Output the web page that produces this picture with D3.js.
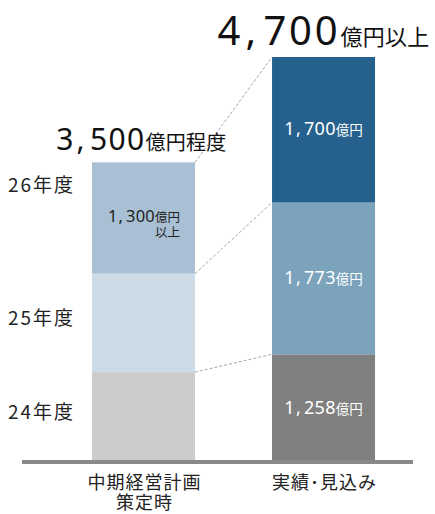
<!DOCTYPE html>
<html>
<head>
<meta charset="utf-8">
<script src="https://cdn.jsdelivr.net/npm/d3@7"></script>
<style>
  body { margin: 0; background: #fff; }
  svg { display: block; font-family: "Noto Sans CJK JP", "Noto Sans", sans-serif; }
  .num { font-family: "Noto Sans", "Noto Sans CJK JP", sans-serif; }
</style>
</head>
<body>
<div id="chart"></div>
<script>
// data
const categories = ['中期経営計画\n策定時', '実績・見込み'];
const years = ['24年度', '25年度', '26年度'];
const planValues = [1050, 1150, 1300];
const actualValues = [1258, 1773, 1700];
const totals = ['3,500', '4,700'];
const totalSuffix = ['億円程度', '億円以上'];
const planColors = ['#cccccc', '#cddbe6', '#a8bfd4'];
const actualColors = ['#808080', '#7ba3bb', '#26618e'];

const width = 435, height = 514;
const baseY = 462;

let svg = d3.select('#chart')
  .append('svg')
  .attr('width', width)
  .attr('height', height);

// table for d3.stack, one row per bar
let table = [planValues, actualValues].map((vals, i) => {
  let row = { cat: categories[i] };
  years.forEach((y, j) => row[y] = vals[j]);
  return row;
});
let stacked = d3.stack().keys(years)(table);

let yMax = d3.max(table, d => d3.sum(years, y => d[y]));

let yScale = d3.scaleLinear()
  .domain([0, yMax])
  .range([baseY, 57]);

let xScale = d3.scaleBand()
  .domain(categories)
  .range([52, 415])
  .paddingInner(0.428)
  .paddingOuter(0.222);

const barColors = [planColors, actualColors];
const fmt = d3.format(',');

// writes a number with a roomier comma, like the original font
function numberSpans(text, str, size, spacing) {
  let parts = str.split(',');
  parts.forEach((p, k) => {
    if (k > 0) {
      text.append('tspan').attr('class', 'num').attr('font-size', size)
        .attr('dx', size * 0.06).attr('letter-spacing', size * 0.18).text(',');
    }
    text.append('tspan').attr('class', 'num').attr('font-size', size).attr('letter-spacing', spacing).text(p);
  });
}

// bars
stacked.forEach((layer, j) => {
  layer.forEach((seg, i) => {
    svg.append('rect')
      .attr('x', xScale(categories[i]))
      .attr('y', yScale(seg[1]))
      .attr('width', xScale.bandwidth())
      .attr('height', yScale(seg[0]) - yScale(seg[1]))
      .attr('fill', barColors[i][j]);
  });
});

// dashed connectors between layer tops
let leftEdge = xScale(categories[0]) + xScale.bandwidth();
let rightEdge = xScale(categories[1]);
stacked.forEach(layer => {
  svg.append('path')
    .attr('d', d3.line()([[leftEdge, yScale(layer[0][1])], [rightEdge, yScale(layer[1][1])]]))
    .attr('stroke', '#a6a6a6')
    .attr('stroke-width', 1)
    .attr('stroke-dasharray', '3,2')
    .attr('fill', 'none');
});

// baseline
svg.append('line')
  .attr('x1', 22).attr('x2', 413)
  .attr('y1', baseY).attr('y2', baseY)
  .attr('stroke', '#898989')
  .attr('stroke-width', 4);

// year labels on the left
const labelPos = [0.55, 0.55, 0.79];
stacked.forEach((layer, j) => {
  let seg = layer[0];
  svg.append('text')
    .attr('x', 8)
    .attr('y', yScale(seg[0] + (seg[1] - seg[0]) * labelPos[j]))
    .attr('dy', '0.35em')
    .attr('font-size', 19)
    .attr('letter-spacing', 2)
    .attr('fill', '#222')
    .text(years[j]);
});

// value labels inside the actual bar
stacked.forEach((layer, j) => {
  let seg = layer[1];
  let t = svg.append('text')
    .attr('x', xScale(categories[1]) + xScale.bandwidth() / 2)
    .attr('y', yScale((seg[0] + seg[1]) / 2))
    .attr('dy', '0.35em')
    .attr('text-anchor', 'middle')
    .attr('fill', '#fff');
  numberSpans(t, fmt(actualValues[j]), 18, 0.3);
  t.append('tspan').attr('font-size', 13.5).text('億円');
});

// label inside the top of the plan bar
{
  let seg = stacked[2][0];
  let xr = xScale(categories[0]) + xScale.bandwidth() - 15;
  let t = svg.append('text')
    .attr('x', xr)
    .attr('y', yScale(seg[1]) + 60)
    .attr('text-anchor', 'end')
    .attr('fill', '#222');
  numberSpans(t, fmt(planValues[2]), 16.5, 0.2);
  t.append('tspan').attr('font-size', 12.5).text('億円');
  svg.append('text')
    .attr('x', xr)
    .attr('y', yScale(seg[1]) + 75)
    .attr('text-anchor', 'end')
    .attr('font-size', 12.5)
    .attr('fill', '#222')
    .text('以上');
}

// totals above bars
const totalSize = [30, 40];
const suffixSize = [20, 22];
const totalSpacing = [1.3, 2.8];
categories.forEach((c, i) => {
  let top = yScale(d3.sum(barColors[i].map((_, j) => stacked[j][i][1] - stacked[j][i][0])));
  let t = svg.append('text')
    .attr('x', xScale(c) + xScale.bandwidth() / 2 + (i === 0 ? -2 : 0))
    .attr('y', top - 12)
    .attr('text-anchor', 'middle')
    .attr('fill', '#111');
  numberSpans(t, totals[i], totalSize[i], totalSpacing[i]);
  t.append('tspan').attr('font-size', suffixSize[i]).attr('letter-spacing', 0.3).text(totalSuffix[i]);
});

// category labels below
categories.forEach(c => {
  let lines = c.split('\n');
  let t = svg.append('text')
    .attr('text-anchor', 'middle')
    .attr('font-size', 18)
    .attr('letter-spacing', 1)
    .attr('fill', '#222');
  lines.forEach((l, k) => {
    t.append('tspan')
      .attr('x', xScale(c) + xScale.bandwidth() / 2 + 1)
      .attr('y', 489 + k * 20)
      .text(l.replace('・', '･'));
  });
});
</script>
</body>
</html>
